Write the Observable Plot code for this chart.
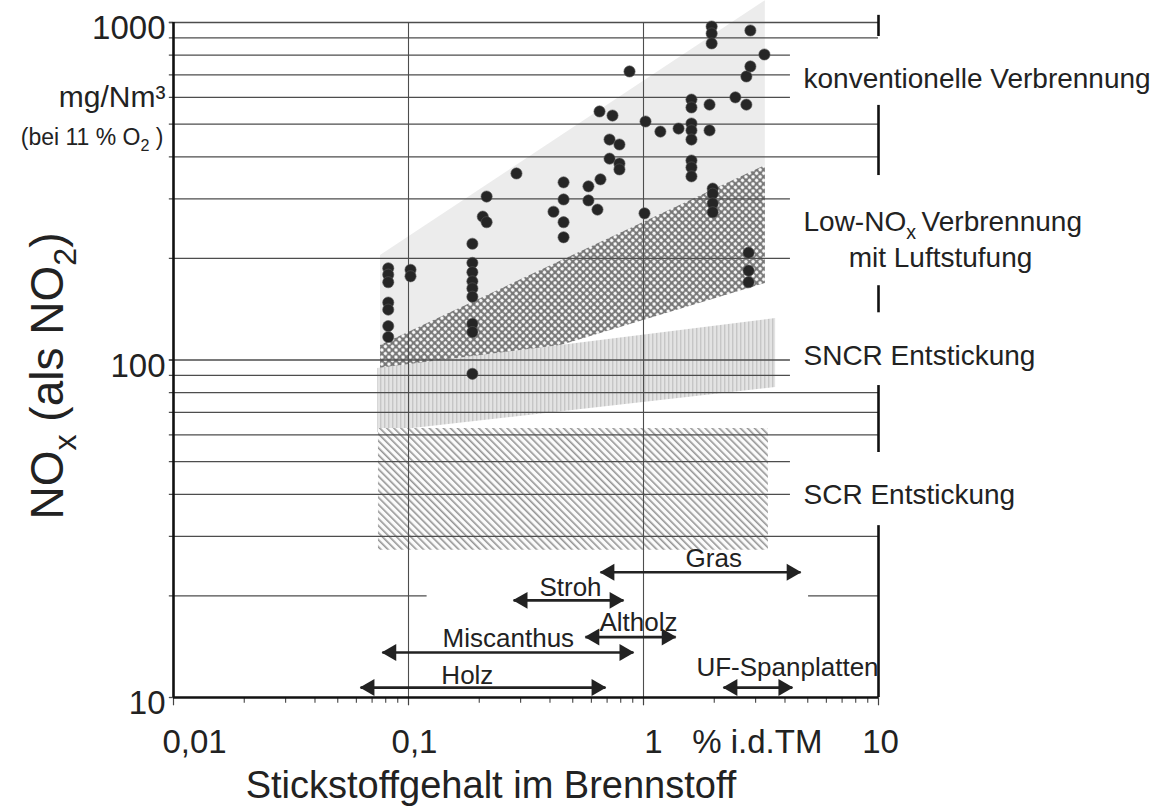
<!DOCTYPE html>
<html><head><meta charset="utf-8">
<script src="https://cdn.jsdelivr.net/npm/d3@7"></script>
<script src="https://cdn.jsdelivr.net/npm/@observablehq/plot@0.6"></script>
<style>body{margin:0;background:#fff} svg{display:block}</style>
</head><body><div id="chart"></div>
<script>
// ---- data ----
// measured points: N content in fuel (% d.m.) and NOx (mg/Nm3, 11 % O2)
const dotN = [
  0.082,0.082,0.082,0.082,0.082,0.082,0.082,
  0.102,0.102,
  0.187,0.187,0.187,0.187,0.187,0.187,0.187,0.187,0.187,
  0.215,0.207,0.215,
  0.288,
  0.414,
  0.457,0.457,0.457,0.457,
  0.583,0.583,
  0.656,0.637,
  0.650,0.738,
  0.717,0.717,
  0.790,0.790,0.790,
  0.872,
  1.02,1.01,
  1.18,1.41,
  1.60,1.60,1.60,1.60,1.60,1.60,1.60,1.60,
  1.91,1.91,
  1.95,1.95,1.95,
  1.97,1.97,1.97,1.97,
  2.46,
  2.74,2.74,
  2.85,2.85,
  3.27,
  2.80,2.80,2.80
];
const dotNOx = [
  187,179,170,148,141,126,117,
  185,177,
  221,194,182,171,163,154,128,121,91,
  305,266,256,
  357,
  275,
  336,299,256,231,
  327,297,
  343,279,
  545,530,
  450,395,
  435,382,367,
  716,
  509,272,
  475,485,
  591,560,502,479,450,390,372,350,
  571,479,
  973,928,867,
  322,311,291,274,
  600,
  692,571,
  947,741,
  804,
  208,184,170
];

// technology bands (left / right edge, lower / upper NOx)
const konvX = [0.076, 3.3],   konvLo = [90, 250],    konvHi = [204, 1160];
const lowX  = [0.076, 3.3],   lowLo  = [75.9, 168.6], lowHi  = [110.4, 377];
const sncrX = [0.0738, 3.65], sncrLo = [61.0, 82.9],  sncrHi = [94.4, 132.7];
const scrX  = [0.0745, 3.4],  scrLo  = [27.3, 27.3],  scrHi  = [62.7, 62.7];

// fuel N ranges
const materials = ["Gras", "Stroh", "Altholz", "Miscanthus", "Holz", "UF-Spanplatten"];
const matFrom   = [0.656, 0.28, 0.566, 0.0774, 0.0625, 2.19];
const matTo     = [4.66, 0.822, 1.37, 0.906, 0.689, 4.30];
const matLevel  = [23.5, 19.4, 15.1, 13.6, 10.7, 10.7];
const matLabelX = [1.99, 0.489, 0.952, 0.266, 0.178, 4.10];
const matLabelY = [25.8, 21.2, 16.7, 14.96, 11.62, 12.27];

// right-hand technology labels
const techLabels = ["konventionelle Verbrennung", "Low-NOx Verbrennung", "SNCR Entstickung", "SCR Entstickung"];
const techLabelY = [682, 256, 103, 39.7];
const techLabel2 = ["mit Luftstufung"];
const techLabel2Y = [200];
// right border segments (gaps where labels sit)
const barTop    = [1050, 568, 166, 84, 32.3];
const barBottom = [909, 352, 138, 53.2, 10];

// axes / grid
const xTicksMajor = [0.01, 0.1, 1, 10];
const xTickLabels = ["0,01", "0,1", "1", "10"];
const xTicksMinor = [0.02,0.03,0.04,0.05,0.06,0.07,0.08,0.09,0.2,0.3,0.4,0.5,0.6,0.7,0.8,0.9,2,3,4,5,6,7,8,9];
const yTicksMajor = [10, 100, 1000];
const gridToRight = [1000, 900, 500, 400, 80, 70, 60, 30];
const gridShort   = [800, 700, 600, 300, 200, 100, 90, 50, 40];
const grid20      = [20];
const vGrid       = [0.1, 1];

// ---- build ----
const band = (xs, lo, hi) => xs.map((x, i) => ({x, lo: lo[i], hi: hi[i]}));
const mats = materials.map((m, i) => ({m, a: matFrom[i], b: matTo[i], y: matLevel[i], lx: matLabelX[i], ly: matLabelY[i]}));
const dots = dotN.map((n, i) => ({n, v: dotNOx[i]}));
const font = "'Liberation Sans', Arial, Helvetica, sans-serif";
const ink = "#222";
const gridStroke = "#4d4d4d";

const xLabelMarks = xTickLabels.map((t, i) =>
  Plot.text([t], {x: [xTicksMajor[i]], y: [10], lineAnchor: "top",
    dy: 32, dx: [21, 6, 10, 2][i], fontSize: 33, fill: ink}));

const chart = Plot.plot({
  width: 1160, height: 812,
  marginLeft: 173, marginRight: 282, marginTop: 22, marginBottom: 115,
  x: {type: "log", domain: [0.01, 10], axis: null},
  y: {type: "log", domain: [10, 1000], axis: null},
  style: {fontFamily: font, background: "#fff", color: ink, overflow: "visible"},
  marks: [
    // bands
    Plot.areaY(band(konvX, konvLo, konvHi), {x: "x", y1: "lo", y2: "hi", fill: "#ececec"}),
    Plot.areaY(band(lowX, lowLo, lowHi), {x: "x", y1: "lo", y2: "hi", fill: "url(#pat-cross)"}),
    Plot.areaY(band(sncrX, sncrLo, sncrHi), {x: "x", y1: "lo", y2: "hi", fill: "url(#pat-vert)"}),
    Plot.areaY(band(scrX, scrLo, scrHi), {x: "x", y1: "lo", y2: "hi", fill: "url(#pat-diag)"}),
    // grid
    Plot.ruleX(vGrid, {y1: 10, y2: 1000, stroke: gridStroke, strokeWidth: 1.1}),
    Plot.ruleY(gridToRight, {x1: 0.0096, x2: 10, stroke: gridStroke, strokeWidth: 1.3}),
    Plot.ruleY(gridShort, {x1: 0.0096, x2: 4.22, stroke: gridStroke, strokeWidth: 1.3}),
    Plot.ruleY(grid20, {x1: 0.0096, x2: 0.12, stroke: gridStroke, strokeWidth: 1.3}),
    Plot.ruleY(grid20, {x1: 5.04, x2: 10, stroke: gridStroke, strokeWidth: 1.3}),
    Plot.ruleY(yTicksMajor, {x1: 0.0096, x2: 0.01, stroke: gridStroke, strokeWidth: 1.3}),
    // x ticks
    Plot.ruleX(xTicksMinor, {y1: 10, y2: 9.62, stroke: "#444", strokeWidth: 1.1}),
    Plot.ruleX(xTicksMajor, {y1: 10, y2: 9.45, stroke: "#444", strokeWidth: 1.2}),
    // frame
    Plot.ruleX([0.01], {y1: 10, y2: 1000, stroke: "#111", strokeWidth: 2.6}),
    Plot.ruleY([10], {x1: 0.01, x2: 10, stroke: "#111", strokeWidth: 2.6}),
    Plot.ruleX(barTop, {x: () => 10, y1: d => d, y2: (d, i) => barBottom[i], stroke: "#111", strokeWidth: 2.6}),
    // data points
    Plot.dot(dots, {x: "n", y: "v", r: 5.6, fill: "#262626", stroke: "#555", strokeWidth: 0.6}),
    // fuel ranges
    Plot.link(mats, {x1: "a", x2: "b", y1: "y", y2: "y", stroke: ink, strokeWidth: 2.6}),
    Plot.dot(mats, {x: "a", y: "y", symbol: "triangle", r: 6.3, rotate: -90, dx: 9, fill: ink, stroke: "none"}),
    Plot.dot(mats, {x: "b", y: "y", symbol: "triangle", r: 6.3, rotate: 90, dx: -9, fill: ink, stroke: "none"}),
    Plot.text(mats, {x: "lx", y: "ly", text: "m", fontSize: 26, fill: ink}),
    // y tick labels
    Plot.text(yTicksMajor, {x: () => 0.01, y: d => d, text: d => String(d), textAnchor: "end", dx: -8, dy: 6, fontSize: 33, fill: ink}),
    // x tick labels
    ...xLabelMarks,
    Plot.text(["% i.d.TM"], {x: [3.05], y: [10], lineAnchor: "top", dy: 32, fontSize: 33, fill: ink}),
    // axis titles
    Plot.text(["Stickstoffgehalt im Brennstoff"], {frameAnchor: "bottom", lineAnchor: "top", dx: -35, dy: 74, fontSize: 38, fill: ink}),
    Plot.text(["NOx (als NO2)"], {frameAnchor: "left", textAnchor: "middle", rotate: -90, dx: -125, dy: 16, fontSize: 46, fill: ink}),
    Plot.text(["mg/Nm³"], {x: [0.01], y: [600], textAnchor: "end", dx: -8, fontSize: 30, fill: ink}),
    Plot.text(["(bei 11 % O2 )"], {x: [0.01], y: [456], textAnchor: "end", dx: -10, fontSize: 23, fill: ink}),
    // technology labels
    Plot.text(techLabels, {x: () => 10, y: (d, i) => techLabelY[i], textAnchor: "start", dx: -75, fontSize: 28, fill: ink}),
    Plot.text(techLabel2, {x: () => 10, y: (d, i) => techLabel2Y[i], textAnchor: "middle", dx: 62, fontSize: 28, fill: ink})
  ]
});

// patterns
const svg = d3.select(chart);
const defs = svg.insert("defs", ":first-child");
const pc = defs.append("pattern").attr("id", "pat-cross").attr("patternUnits", "userSpaceOnUse")
  .attr("width", 5).attr("height", 5).attr("patternTransform", "rotate(45)");
pc.append("rect").attr("width", 5).attr("height", 5).attr("fill", "#777");
pc.append("circle").attr("cx", 2.5).attr("cy", 2.5).attr("r", 1.75).attr("fill", "#fafafa");
const pv = defs.append("pattern").attr("id", "pat-vert").attr("patternUnits", "userSpaceOnUse")
  .attr("width", 4).attr("height", 10);
pv.append("rect").attr("width", 4).attr("height", 10).attr("fill", "#e3e3e3");
pv.append("rect").attr("width", 1.4).attr("height", 10).attr("fill", "#c6c6c6");
const pd = defs.append("pattern").attr("id", "pat-diag").attr("patternUnits", "userSpaceOnUse")
  .attr("width", 5).attr("height", 5).attr("patternTransform", "rotate(-45)");
pd.append("rect").attr("width", 5).attr("height", 5).attr("fill", "#fbfbfb");
pd.append("line").attr("x1", 0.8).attr("y1", 0).attr("x2", 0.8).attr("y2", 5).attr("stroke", "#959595").attr("stroke-width", 1.6);

// subscripts
function subscript(match, parts, fs) {
  svg.selectAll("text").filter(function() { return this.textContent === match; }).each(function() {
    const t = d3.select(this);
    t.text(null);
    let shifted = false;
    parts.forEach(([s, sub]) => {
      const ts = t.append("tspan").text(s);
      if (sub) { ts.attr("font-size", fs * 0.7).attr("dy", fs * 0.28); shifted = true; }
      else if (shifted) { ts.attr("dy", -fs * 0.28); shifted = false; }
    });
  });
}
subscript("NOx (als NO2)", [["NO"], ["x", true], [" (als NO"], ["2", true], [")"]], 46);
subscript("(bei 11 % O2 )", [["(bei 11 % O"], ["2", true], [" )"]], 23);
subscript("Low-NOx Verbrennung", [["Low-NO"], ["x", true], ["\u2009Verbrennung"]], 28);

document.getElementById("chart").appendChild(chart);
</script>
</body></html>
